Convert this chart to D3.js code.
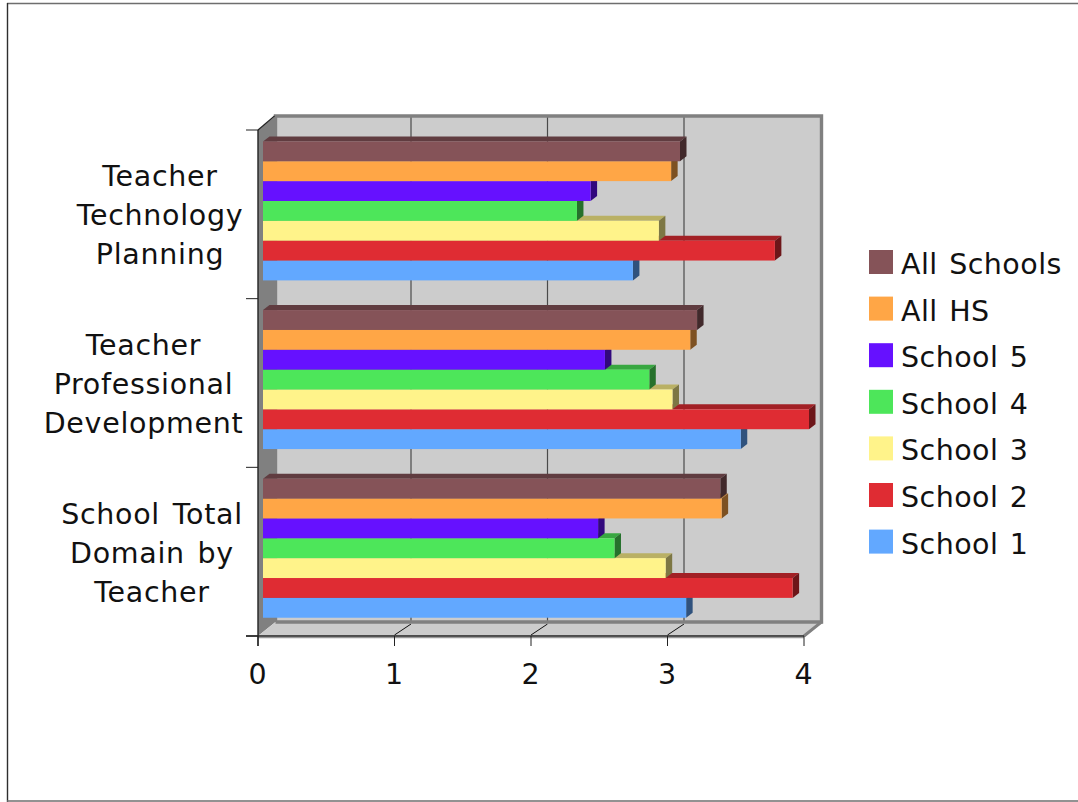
<!DOCTYPE html>
<html>
<head>
<meta charset="utf-8">
<script src="https://cdn.jsdelivr.net/npm/d3@7/dist/d3.min.js"></script>
<style>
html,body{margin:0;padding:0;background:#fff;overflow:hidden}
svg{display:block}
text{font-family:"DejaVu Sans",Verdana,sans-serif;fill:#111;letter-spacing:.7px;word-spacing:3px}
text.legend{letter-spacing:.45px;word-spacing:2px}
</style>
</head>
<body>
<svg id="chart" width="1078" height="802"></svg>
<script>
// Category labels, one array of lines per group, top to bottom
const categories = ["Teacher Technology Planning", "Teacher Professional Development", "School Total Domain by Teacher"];
const categoryLines = [
  ["Teacher", "Technology", "Planning"],
  ["Teacher", "Professional", "Development"],
  ["School Total", "Domain by", "Teacher"]
];
const categoryLabelX = [160, 143.5, 152];
const seriesNames = ["All Schools", "All HS", "School 5", "School 4", "School 3", "School 2", "School 1"];
const seriesColors = ["#855358", "#FFA646", "#6611FF", "#4DE65A", "#FFF38A", "#DF2C33", "#62A8FF"];

// Scores per series, in category order
const allSchools = [3.055, 3.18, 3.35];
const allHS = [2.99, 3.13, 3.36];
const school5 = [2.40, 2.505, 2.455];
const school4 = [2.30, 2.83, 2.575];
const school3 = [2.90, 3.00, 2.95];
const school2 = [3.75, 4.00, 3.88];
const school1 = [2.71, 3.50, 3.10];
const seriesValues = [allSchools, allHS, school5, school4, school3, school2, school1];
const xTicks = [0, 1, 2, 3, 4];

const svg = d3.select("#chart");

// Slide border: only the top, left and bottom edges fall inside the frame
svg.append("line").attr("x1", 7).attr("x2", 1078).attr("y1", 3.5).attr("y2", 3.5).attr("stroke", "#6e6e6e").attr("stroke-width", 1.4);
svg.append("line").attr("x1", 7.5).attr("x2", 7.5).attr("y1", 3).attr("y2", 802).attr("stroke", "#2e2e2e").attr("stroke-width", 1.4);
svg.append("line").attr("x1", 7).attr("x2", 1078).attr("y1", 801).attr("y2", 801).attr("stroke", "#6e6e6e").attr("stroke-width", 1.4);

// Front plane scales of the 3D box
const x = d3.scaleLinear().domain([0, 4]).range([258, 804]);
const y = d3.scaleBand().domain(d3.range(categories.length)).range([130, 636]);
const depthX = 17.5, depthY = 14;
const barDepthX = 6.5, barDepthY = 5;
const barShiftX = 5;
const groupPad = 11.4;
const barBand = d3.scaleBand().domain(d3.range(seriesNames.length)).range([0, 139]);

const frontL = x(0), frontR = x(4), frontT = y.range()[0], frontB = y.range()[1];
const wallL = frontL + depthX, wallR = frontR + depthX, wallT = frontT - depthY, wallB = frontB - depthY;
const poly = pts => pts.map(p => p.join(",")).join(" ");

// Left side wall
svg.append("polygon").attr("points", poly([[frontL, frontT], [wallL, wallT], [wallL, wallB], [frontL, frontB]])).attr("fill", "#808080");
// Back wall
svg.append("rect").attr("x", wallL).attr("y", wallT).attr("width", wallR - wallL).attr("height", wallB - wallT).attr("fill", "#CCCCCC");
// Floor
svg.append("polygon").attr("points", poly([[frontL, frontB], [frontR, frontB], [wallR, wallB], [wallL, wallB]])).attr("fill", "#CCCCCC");

// Gridlines on the back wall, continued across the floor
xTicks.slice(1, -1).forEach(t => {
  svg.append("line").attr("x1", x(t) + depthX - 1).attr("x2", x(t) + depthX - 1).attr("y1", wallT).attr("y2", wallB)
    .attr("stroke", "#4a4a4a").attr("stroke-width", 1.2);
  svg.append("line").attr("x1", x(t)).attr("x2", x(t) + depthX - 1).attr("y1", frontB - 1).attr("y2", wallB + 2)
    .attr("stroke", "#111").attr("stroke-width", 1);
});

// Heavy grey edge of the back wall and floor
svg.append("polyline").attr("points", poly([[wallL, wallB], [wallL, wallT], [wallR, wallT], [wallR, wallB], [wallL, wallB]]))
  .attr("fill", "none").attr("stroke", "#808080").attr("stroke-width", 3.4);
svg.append("polyline").attr("points", poly([[frontR, frontB], [wallR, wallB], [wallR, wallB - 3]]))
  .attr("fill", "none").attr("stroke", "#808080").attr("stroke-width", 3);
svg.append("line").attr("x1", frontL).attr("x2", frontR).attr("y1", frontB + 1.5).attr("y2", frontB + 1.5).attr("stroke", "#999").attr("stroke-width", 1.5);

// Bars are painted bottom to top so each front face hides the top face of the bar beneath
categories.forEach((c, ci) => {
  const groupTop = y(ci) + groupPad;
  d3.range(seriesNames.length).reverse().forEach(si => {
    const x0 = x(0) + barShiftX;
    const x1 = x(seriesValues[si][ci]) + barShiftX;
    const y0 = groupTop + barBand(si);
    const y1 = y0 + barBand.bandwidth();
    const base = d3.color(seriesColors[si]);
    const g = svg.append("g").attr("class", "bar");
    g.append("polygon").attr("points", poly([[x0, y0], [x0 + barDepthX, y0 - barDepthY], [x1 + barDepthX, y0 - barDepthY], [x1, y0]]))
      .attr("fill", base.darker(0.9));
    g.append("polygon").attr("points", poly([[x1, y0], [x1 + barDepthX, y0 - barDepthY], [x1 + barDepthX, y1 - barDepthY], [x1, y1]]))
      .attr("fill", base.darker(2));
    g.append("rect").attr("x", x0).attr("y", y0).attr("width", x1 - x0).attr("height", y1 - y0).attr("fill", base);
  });
});

// Front axis lines and ticks
svg.append("line").attr("x1", frontL).attr("x2", frontL).attr("y1", frontT).attr("y2", frontB + 10).attr("stroke", "#222").attr("stroke-width", 1.4);
svg.append("line").attr("x1", frontL - 12).attr("x2", frontR).attr("y1", frontB).attr("y2", frontB).attr("stroke", "#222").attr("stroke-width", 1.4);
xTicks.forEach(t => {
  svg.append("line").attr("x1", x(t)).attr("x2", x(t)).attr("y1", frontB).attr("y2", frontB + 10).attr("stroke", "#222").attr("stroke-width", 1);
  svg.append("text").attr("x", x(t)).attr("y", 683.5).attr("text-anchor", "middle").attr("font-size", 28.5).text(t);
});
d3.range(categories.length + 1).forEach(i => {
  const ty = i < categories.length ? y(i) : frontB;
  svg.append("line").attr("x1", frontL - 12).attr("x2", frontL).attr("y1", ty).attr("y2", ty).attr("stroke", "#222").attr("stroke-width", 1);
});
svg.append("line").attr("x1", frontL).attr("x2", wallL - 1).attr("y1", frontT).attr("y2", wallT).attr("stroke", "#222").attr("stroke-width", 1.2);

// Category labels
categoryLines.forEach((lines, ci) => {
  lines.forEach((ln, li) => {
    svg.append("text").attr("x", categoryLabelX[ci]).attr("y", y(ci) + 55.5 + ci * 0.6 + li * 39.2)
      .attr("text-anchor", "middle").attr("font-size", 28.5).text(ln);
  });
});

// Legend
seriesNames.forEach((name, i) => {
  const ly = 250 + i * 46.6;
  svg.append("rect").attr("x", 869).attr("y", ly).attr("width", 24).attr("height", 24).attr("fill", seriesColors[i]);
  svg.append("text").attr("class", "legend").attr("x", 901).attr("y", ly + 24).attr("font-size", 28.5).text(name);
});
</script>
</body>
</html>
